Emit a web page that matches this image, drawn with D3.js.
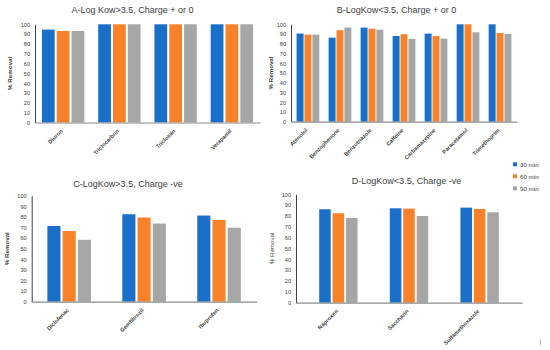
<!DOCTYPE html>
<html><head><meta charset="utf-8">
<script src="https://cdn.jsdelivr.net/npm/d3@7"></script>
<style>body{margin:0;background:#fff}svg{display:block}text{font-family:"Liberation Sans",Arial,sans-serif}</style>
</head><body><svg id="c" width="550" height="350"></svg>
<script>
const seriesNames = ["30 min", "60 min", "90 min"];
const colors = ["#1a6fc9", "#f8822a", "#a6a6a6"];
const yTicks = [0, 10, 20, 30, 40, 50, 60, 70, 80, 90, 100];

const titleA = "A-Log Kow>3.5, Charge + or 0";
const catsA = ["Diuron", "Triclocarbon", "Triclosan", "Verapamil"];
const a30 = [94.6, 100, 100, 100];
const a60 = [93.2, 100, 100, 100];
const a90 = [93.2, 100, 100, 100];

const titleB = "B-LogKow<3.5, Charge + or 0";
const catsB = ["Atenolol", "Benzophenone", "Benzotriazole", "Caffeine", "Carbamazepine", "Paracetamol", "Trimethoprim"];
const b30 = [90.5, 86.3, 96.6, 88.0, 90.4, 100, 100];
const b60 = [89.4, 93.9, 95.5, 89.8, 88.0, 100, 91.1];
const b90 = [89.4, 96.6, 94.5, 85.0, 85.3, 91.8, 90.1];

const titleC = "C-LogKow>3.5, Charge -ve";
const catsC = ["Diclofenac", "Gemfibrozil", "Ibuprofen"];
const c30 = [71.4, 82.5, 81.3];
const c60 = [66.7, 79.4, 77.1];
const c90 = [58.4, 73.7, 69.8];

const titleD = "D-LogKow<3.5, Charge -ve";
const catsD = ["Naproxen", "Saccharin", "Sulfamethoxazole"];
const d30 = [86.2, 87.1, 87.7];
const d60 = [82.5, 86.8, 86.5];
const d90 = [78.2, 80.0, 83.4];

const yLabel = "% Removal";

const svg = d3.select("#c");

const panels = [
  {title: titleA, cats: catsA, series: [a30, a60, a90], x0: 35, x1: 260, y0: 122.5, y1: 24.3, po: 0, grp: 0.79, pad: 0.14, tx: 132.5, ty: 13, ylx: 12, ylBold: true},
  {title: titleB, cats: catsB, series: [b30, b60, b90], x0: 291, x1: 517, y0: 121.7, y1: 24.3, po: 0.03, grp: 0.74, pad: 0.12, tx: 396.5, ty: 13, ylx: 273, ylBold: true},
  {title: titleC, cats: catsC, series: [c30, c60, c90], x0: 31.7, x1: 256.5, y0: 301.7, y1: 195.7, po: 0, grp: 0.61, pad: 0.14, tx: 128, ty: 187, ylx: 9, ylBold: true},
  {title: titleD, cats: catsD, series: [d30, d60, d90], x0: 296, x1: 522, y0: 302.7, y1: 194.3, po: 0.1, grp: 0.57, pad: 0.14, tx: 406.5, ty: 184, ylx: 274, ylBold: false}
];

panels.forEach(p => {
  const g = svg.append("g");
  const x = d3.scaleBand().domain(p.cats).range([p.x0, p.x1]).paddingInner(0).paddingOuter(p.po);
  const sub = d3.scaleBand().domain(seriesNames).paddingInner(p.pad).paddingOuter(p.pad / 2)
    .range([0, x.bandwidth() * p.grp]);
  const off = x.bandwidth() * (1 - p.grp) / 2;
  const y = d3.scaleLinear().domain([0, 100]).range([p.y0, p.y1]);

  seriesNames.forEach((s, si) => {
    g.append("g").selectAll("rect").data(p.series[si]).join("rect")
      .attr("x", (d, i) => x(p.cats[i]) + off + sub(s))
      .attr("y", d => y(d))
      .attr("width", sub.bandwidth())
      .attr("height", d => y(0) - y(d))
      .attr("fill", colors[si]);
  });

  const ya = d3.axisLeft(y).tickValues(yTicks).tickSize(0).tickPadding(5);
  const yg = g.append("g").attr("transform", `translate(${p.x0},0)`).call(ya);
  yg.select(".domain").attr("stroke", "#404040").attr("stroke-width", 1);
  yg.selectAll("text").attr("font-size", 5.6).attr("fill", "#404040");

  const xa = d3.axisBottom(x).tickSize(0).tickPadding(0);
  const xg = g.append("g").attr("transform", `translate(0,${p.y0})`).call(xa);
  xg.select(".domain").attr("stroke", "#8c8c8c").attr("stroke-width", 1.2);
  xg.selectAll(".tick text")
    .attr("font-size", 5.6).attr("font-weight", "bold").attr("fill", "#404040")
    .attr("text-anchor", "end").attr("dy", 0).attr("y", 0)
    .attr("transform", "translate(0,9) rotate(-45)");

  g.append("text").attr("x", p.tx).attr("y", p.ty).attr("text-anchor", "middle")
    .attr("font-size", 9).attr("fill", "#404040").text(p.title);

  g.append("text").attr("transform", `translate(${p.ylx},${(p.y0 + p.y1) / 2}) rotate(-90)`)
    .attr("text-anchor", "middle").attr("font-size", 6.2)
    .attr("font-weight", p.ylBold ? "bold" : "normal").attr("fill", "#404040").text(yLabel);
});

const lg = svg.append("g");
const ly = d3.scalePoint().domain(seriesNames).range([164.3, 188.3]);
lg.selectAll("rect").data(seriesNames).join("rect")
  .attr("x", 513).attr("y", d => ly(d) - 2).attr("width", 4).attr("height", 4)
  .attr("fill", (d, i) => colors[i]);
lg.selectAll("text").data(seriesNames).join("text")
  .attr("x", 520).attr("y", d => ly(d) + 2.2).attr("font-size", 6.2).attr("fill", "#404040")
  .text(d => d);

svg.append("line").attr("x1", 540.5).attr("x2", 540.5).attr("y1", 340).attr("y2", 345)
  .attr("stroke", "#999").attr("stroke-width", 0.8);
</script></body></html>
